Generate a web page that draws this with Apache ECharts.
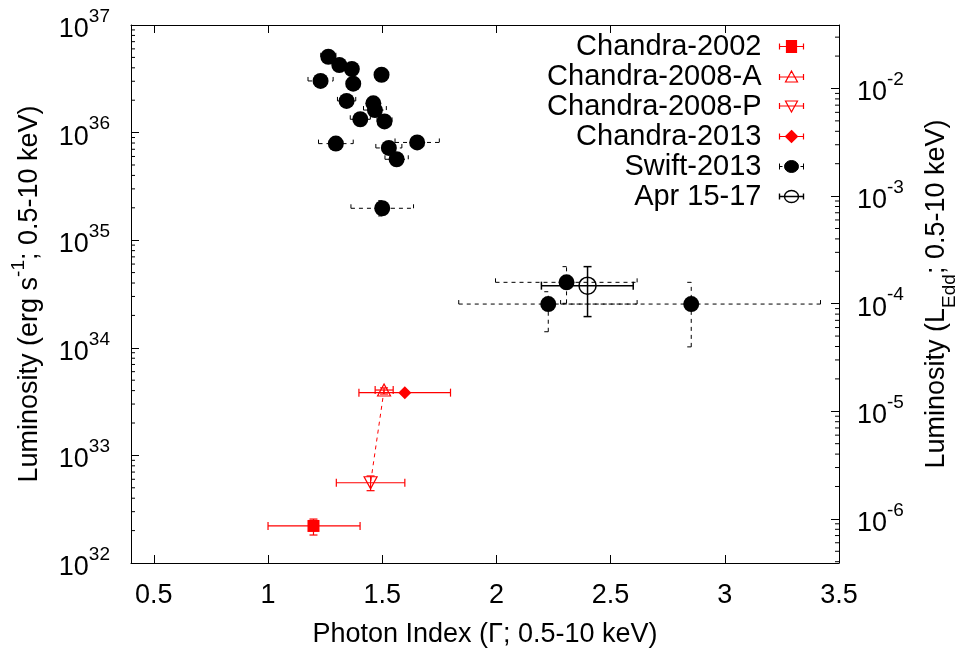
<!DOCTYPE html>
<html>
<head>
<meta charset="utf-8">
<script src="https://cdn.jsdelivr.net/npm/echarts@6/dist/echarts.min.js"></script>
<style>
html, body { margin: 0; padding: 0; background: #fff; }
#chart { width: 956px; height: 655px; }
</style>
</head>
<body>
<div id="chart"></div>
<script>
// rows: [gamma, gammaLo, gammaHi, lum, lumLo, lumHi]  (lum in erg/s)
const chandra2002 = [[1.199, 1.000, 1.403, 2.21e32, 1.82e32, 2.56e32]];
const chandra2008A = [[1.508, 1.469, 1.548, 4.05e33, 3.72e33, 4.24e33]];
const chandra2008P = [[1.449, 1.299, 1.599, 5.57e32, 4.70e32, 6.44e32]];
const chandra2013 = [[1.599, 1.398, 1.799, 3.83e33, 3.70e33, 3.96e33]];
const swift2013 = [
    [1.264, 1.231, 1.297, 5.07e36, 4.60e36, 5.50e36],
    [1.312, 1.297, 1.327, 4.25e36, 4.00e36, 4.50e36],
    [1.367, 1.352, 1.382, 3.90e36, 3.70e36, 4.10e36],
    [1.497, 1.485, 1.509, 3.45e36, 3.30e36, 3.60e36],
    [1.230, 1.175, 1.285, 3.02e36, 2.85e36, 3.20e36],
    [1.373, 1.358, 1.388, 2.85e36, 2.70e36, 3.00e36],
    [1.344, 1.304, 1.384, 1.97e36, 1.85e36, 2.10e36],
    [1.461, 1.441, 1.481, 1.87e36, 1.72e36, 2.03e36],
    [1.468, 1.418, 1.518, 1.62e36, 1.50e36, 1.75e36],
    [1.404, 1.360, 1.448, 1.33e36, 1.25e36, 1.42e36],
    [1.510, 1.477, 1.543, 1.27e36, 1.19e36, 1.36e36],
    [1.297, 1.221, 1.373, 7.90e35, 7.40e35, 8.40e35],
    [1.653, 1.556, 1.750, 8.10e35, 7.60e35, 8.60e35],
    [1.529, 1.472, 1.586, 7.20e35, 6.70e35, 7.70e35],
    [1.563, 1.512, 1.614, 5.65e35, 5.30e35, 6.00e35],
    [1.500, 1.363, 1.637, 1.98e35, 1.68e35, 2.33e35],
    [2.307, 1.996, 2.616, 4.06e34, 2.59e34, 5.68e34],
    [2.227, 1.835, 2.616, 2.55e34, 1.41e34, 3.32e34],
    [2.853, 2.281, 3.419, 2.55e34, 1.02e34, 4.06e34]
];
const apr1517 = [[2.399, 2.197, 2.599, 3.78e34, 1.95e34, 5.68e34]];
// link between the two 2008 observations
const link2008 = [[1.508, 4.05e33], [1.449, 5.57e32]];

const xMin = 0.4, xMax = 3.5;
const lumMin = 1e32, lumMax = 1e37;
const logLEdd = 38.41;          // log10 of Eddington luminosity (erg/s)
const minorMult = [2, 3, 4, 5, 6, 7, 8, 9];
const leftDecades = [32, 33, 34, 35, 36];
const rightDecades = [-7, -6, -5, -4, -3, -2];

const FONT = 'Liberation Sans';
const FS = 27;

const eddMin = Math.pow(10, Math.log10(lumMin) - logLEdd);
const eddMax = Math.pow(10, Math.log10(lumMax) - logLEdd);

function minorTicks(decades, lo, hi) {
    const out = [];
    decades.forEach(d => minorMult.forEach(m => {
        const v = m * Math.pow(10, d);
        if (v > lo && v < hi) out.push([v]);
    }));
    return out;
}

function powLabel(v) {
    const e = Math.log10(v);
    const r = Math.round(e);
    if (Math.abs(e - r) > 1e-6) return '';
    return '{b|10}{s|' + r + '}';
}

const powRich = {
    b: { fontSize: FS, fontFamily: FONT, color: '#000', lineHeight: 36, verticalAlign: 'bottom' },
    s: { fontSize: 19, fontFamily: FONT, color: '#000', verticalAlign: 'top' }
};

function errorBars(color, width, dash) {
    return function (params, api) {
        const x = api.value(0), xl = api.value(1), xh = api.value(2);
        const y = api.value(3), yl = api.value(4), yh = api.value(5);
        const c = api.coord([x, y]);
        const pl = api.coord([xl, y]), ph = api.coord([xh, y]);
        const ql = api.coord([x, yl]), qh = api.coord([x, yh]);
        const st = { stroke: color, lineWidth: width, lineDash: dash };
        const seg = (x1, y1, x2, y2) => ({ type: 'line', shape: { x1, y1, x2, y2 }, style: st });
        const cap = 4;
        return {
            type: 'group',
            children: [
                seg(pl[0], c[1], ph[0], c[1]),
                seg(pl[0], c[1] - cap, pl[0], c[1] + cap),
                seg(ph[0], c[1] - cap, ph[0], c[1] + cap),
                seg(c[0], ql[1], c[0], qh[1]),
                seg(c[0] - cap, ql[1], c[0] + cap, ql[1]),
                seg(c[0] - cap, qh[1], c[0] + cap, qh[1])
            ]
        };
    };
}

function minorTickSeries(data, yAxisIndex, side) {
    return {
        type: 'custom',
        yAxisIndex: yAxisIndex,
        silent: true,
        data: data,
        encode: { y: 0 },
        renderItem: function (params, api) {
            const cs = params.coordSys;
            const y = api.coord([xMin, api.value(0)])[1];
            const x0 = side === 'left' ? cs.x : cs.x + cs.width;
            const x1 = side === 'left' ? x0 + 4 : x0 - 4;
            return { type: 'line', shape: { x1: x0, y1: y, x2: x1, y2: y },
                     style: { stroke: '#000', lineWidth: 1 } };
        }
    };
}

const BAR = 'M0,7L24,7M0,4L0,10M24,4L24,10';
const DBAR = 'M0,4L0,10M0,7L3,7M7,7L10,7M14,7L17,7M21,7L24,7M24,4L24,10';
const legendData = [
    { name: 'Chandra-2002', icon: 'path://' + BAR + 'M7,1L17,1L17,13L7,13Z',
      itemStyle: { color: '#f00', borderColor: '#f00', borderWidth: 1.2 } },
    { name: 'Chandra-2008-A', icon: 'path://' + BAR + 'M12,1L18,12L6,12Z',
      itemStyle: { color: 'none', borderColor: '#f00', borderWidth: 1.2 } },
    { name: 'Chandra-2008-P', icon: 'path://' + BAR + 'M12,13L18,2L6,2Z',
      itemStyle: { color: 'none', borderColor: '#f00', borderWidth: 1.2 } },
    { name: 'Chandra-2013', icon: 'path://' + BAR + 'M12,1L18,7L12,13L6,7Z',
      itemStyle: { color: '#f00', borderColor: '#f00', borderWidth: 1.2 } },
    { name: 'Swift-2013', icon: 'path://' + DBAR + 'M19,7A7,6 0 1,1 5,7A7,6 0 1,1 19,7Z',
      itemStyle: { color: '#000', borderColor: '#000', borderWidth: 1 } },
    { name: 'Apr 15-17', icon: 'path://' + BAR + 'M19,7A7,6 0 1,1 5,7A7,6 0 1,1 19,7Z',
      itemStyle: { color: 'none', borderColor: '#000', borderWidth: 1.4 } }
];

function xy(rows) { return rows.map(r => [r[0], r[3]]); }

const chart = echarts.init(document.getElementById('chart'));
chart.setOption({
    animation: false,
    backgroundColor: '#fff',
    textStyle: { fontFamily: FONT },
    grid: { left: 131, right: 117, top: 25, bottom: 92, outerBoundsMode: 'none', containLabel: false },
    legend: {
        data: legendData,
        orient: 'vertical',
        align: 'right',
        right: 145,
        top: 27,
        itemWidth: 24,
        itemHeight: 12,
        itemGap: 1,
        selectedMode: false,
        textStyle: { fontSize: 29, fontFamily: FONT, color: '#000', padding: [0, 13, 0, 0] }
    },
    xAxis: [{
        type: 'value', min: xMin, max: xMax, position: 'bottom',
        name: 'Photon Index (Γ; 0.5-10 keV)', nameLocation: 'middle', nameGap: 58,
        nameTextStyle: { fontSize: FS, fontFamily: FONT, color: '#000' },
        axisLine: { show: true, lineStyle: { color: '#000', width: 1 } },
        axisTick: { inside: true, length: 8, lineStyle: { color: '#000' } },
        axisLabel: { fontSize: FS, fontFamily: FONT, color: '#000', margin: 19, showMinLabel: false,
                     formatter: v => String(v) },
        splitLine: { show: false }
    }, {
        type: 'value', min: xMin, max: xMax, position: 'top',
        axisLine: { show: true, lineStyle: { color: '#000', width: 1 } },
        axisTick: { inside: true, length: 8, lineStyle: { color: '#000' } },
        axisLabel: { show: false },
        splitLine: { show: false }
    }],
    yAxis: [{
        type: 'log', logBase: 10, min: lumMin, max: lumMax, position: 'left',
        name: '{b|Luminosity (erg s}{s|-1}{b|; 0.5-10 keV)}', nameLocation: 'middle', nameGap: 88, nameRotate: 90,
        nameTextStyle: { rich: {
            b: { fontSize: FS, fontFamily: FONT, color: '#000', lineHeight: 34, verticalAlign: 'bottom' },
            s: { fontSize: 19, fontFamily: FONT, color: '#000', verticalAlign: 'top' } } },
        axisLine: { show: true, lineStyle: { color: '#000', width: 1 } },
        axisTick: { inside: true, length: 8, lineStyle: { color: '#000' } },
        axisLabel: { formatter: powLabel, rich: powRich, margin: 21 },
        splitLine: { show: false }
    }, {
        type: 'log', logBase: 10, min: eddMin, max: eddMax, position: 'right',
        name: '{b|Luminosity (L}{u|Edd}{b|; 0.5-10 keV)}', nameLocation: 'middle', nameGap: 84, nameRotate: 90,
        nameTextStyle: { rich: {
            b: { fontSize: FS, fontFamily: FONT, color: '#000', lineHeight: 36, verticalAlign: 'top' },
            u: { fontSize: 19, fontFamily: FONT, color: '#000', verticalAlign: 'bottom' } } },
        axisLine: { show: true, lineStyle: { color: '#000', width: 1 } },
        axisTick: { inside: true, length: 8, lineStyle: { color: '#000' } },
        axisLabel: { formatter: powLabel, rich: powRich, margin: 18 },
        splitLine: { show: false }
    }],
    series: [
        minorTickSeries(minorTicks(leftDecades, lumMin, lumMax), 0, 'left'),
        minorTickSeries(minorTicks(rightDecades, eddMin, eddMax), 1, 'right'),
        { name: 'link', type: 'line', data: link2008, symbol: 'none', silent: true,
          lineStyle: { color: '#f00', width: 1, type: [4, 4] }, z: 2 },
        { name: 'Chandra-2002', type: 'custom', data: chandra2002, encode: { x: 0, y: 3 },
          renderItem: errorBars('#f00', 1.2, null), z: 2 },
        { name: 'Chandra-2008-A', type: 'custom', data: chandra2008A, encode: { x: 0, y: 3 },
          renderItem: errorBars('#f00', 1.2, null), z: 2 },
        { name: 'Chandra-2008-P', type: 'custom', data: chandra2008P, encode: { x: 0, y: 3 },
          renderItem: errorBars('#f00', 1.2, null), z: 2 },
        { name: 'Chandra-2013', type: 'custom', data: chandra2013, encode: { x: 0, y: 3 },
          renderItem: errorBars('#f00', 1.2, null), z: 2 },
        { name: 'Swift-2013', type: 'custom', data: swift2013, encode: { x: 0, y: 3 },
          renderItem: errorBars('#000', 1, [4, 4]), z: 2 },
        { name: 'Apr 15-17', type: 'custom', data: apr1517, encode: { x: 0, y: 3 },
          renderItem: errorBars('#000', 1.5, null), z: 2 },
        { name: 'Chandra-2002', type: 'scatter', data: xy(chandra2002), symbol: 'rect', symbolSize: 12,
          itemStyle: { color: '#f00', opacity: 1 }, z: 3 },
        { name: 'Chandra-2008-A', type: 'scatter', data: xy(chandra2008A), symbol: 'triangle', symbolSize: [13, 12],
          itemStyle: { color: 'rgba(0,0,0,0)', borderColor: '#f00', borderWidth: 1.2, opacity: 1 }, z: 3 },
        { name: 'Chandra-2008-P', type: 'scatter', data: xy(chandra2008P), symbol: 'triangle', symbolRotate: 180,
          symbolSize: [13, 12], itemStyle: { color: 'rgba(0,0,0,0)', borderColor: '#f00', borderWidth: 1.2, opacity: 1 }, z: 3 },
        { name: 'Chandra-2013', type: 'scatter', data: xy(chandra2013), symbol: 'diamond', symbolSize: 13,
          itemStyle: { color: '#f00', opacity: 1 }, z: 3 },
        { name: 'Swift-2013', type: 'scatter', data: xy(swift2013), symbol: 'circle', symbolSize: 16,
          itemStyle: { color: '#000', opacity: 1 }, z: 3 },
        { name: 'Apr 15-17', type: 'scatter', data: xy(apr1517), symbol: 'circle', symbolSize: 17,
          itemStyle: { color: 'rgba(0,0,0,0)', borderColor: '#000', borderWidth: 1.5, opacity: 1 }, z: 3 }
    ]
});
</script>
</body>
</html>
